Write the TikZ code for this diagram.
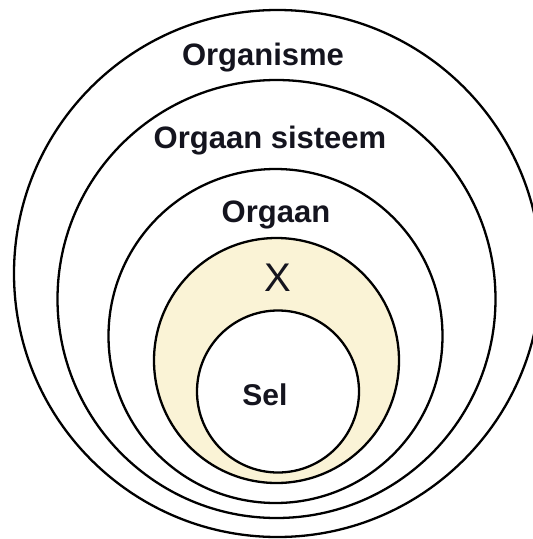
\documentclass[tikz,border=0pt]{standalone}
\usepackage{fontspec}
\setmainfont{Liberation Sans}
\definecolor{cream}{RGB}{250,243,214}
\definecolor{ink}{RGB}{20,20,30}
\begin{document}
\begin{tikzpicture}[x=1pt,y=-1pt,
  ring/.style={circle,draw=black,line width=2.3pt,inner sep=0pt},
  lbl/.style={anchor=base,text=ink,inner sep=0pt,font=\fontsize{31}{31}\selectfont\bfseries}]
\useasboundingbox (0,0) rectangle (533,539);
\clip (0,0) rectangle (533,539);
\node[ring,minimum size=527pt] (organisme) at (277.5,273.5) {};
\node[ring,minimum size=438pt] (sisteem) at (276.5,299) {};
\node[ring,minimum size=334pt] (orgaan) at (275.5,336) {};
\node[ring,fill=cream,minimum size=245pt] (x) at (276.5,360.5) {};
\node[ring,fill=white,minimum size=162pt] (sel) at (278,391.5) {};
\node[lbl] (t1) at (263,65.5) {Organisme};
\node[lbl] (t2) at (270,148) {Orgaan sisteem};
\node[lbl] (t3) at (276,222) {Orgaan};
\node[lbl,font=\fontsize{40}{40}\selectfont] (t4) at (278,291) {X};
\node[lbl,font=\fontsize{30}{30}\selectfont\bfseries] (t5) at (265,405) {Sel};
\end{tikzpicture}
\end{document}
